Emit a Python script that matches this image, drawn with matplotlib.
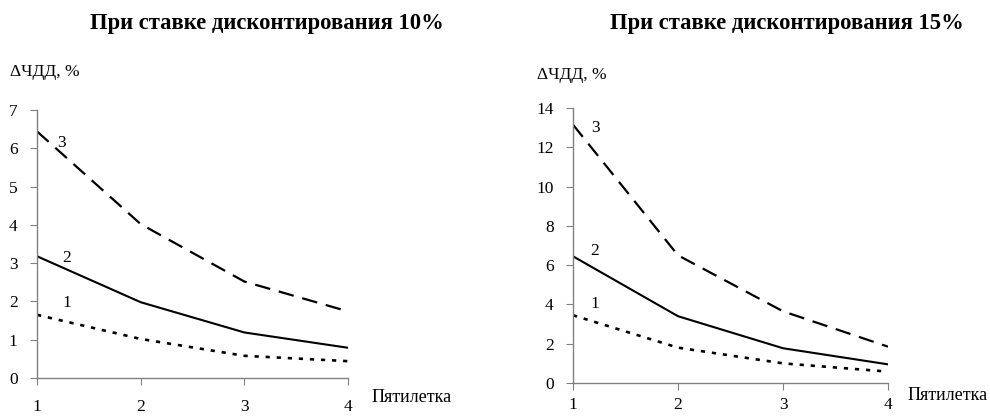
import matplotlib.pyplot as plt

plt.rcParams['font.family'] = ['Liberation Serif', 'DejaVu Serif']

periods = [1, 2, 3, 4]
# discount rate 10%
r10_s1 = [1.65, 1.02, 0.58, 0.44]
r10_s2 = [3.18, 1.98, 1.19, 0.79]
r10_s3 = [6.44, 4.02, 2.52, 1.74]
# discount rate 15%
r15_s1 = [3.45, 1.8, 1.0, 0.58]
r15_s2 = [6.45, 3.4, 1.77, 0.95]
r15_s3 = [13.15, 6.5, 3.65, 1.85]

titles = ["При ставке дисконтирования 10%", "При ставке дисконтирования 15%"]
ylabel = "ΔЧДД, %"
xlabel = "Пятилетка"

fig = plt.figure(figsize=(9.9, 4.16), dpi=100)
ax1 = fig.add_axes([0.0374, 0.0913, 0.3141, 0.6443])
ax2 = fig.add_axes([0.5788, 0.0793, 0.3182, 0.6611])

gray = '#808080'


def draw(ax, s1, s2, s3, ymax, ystep, lab_pos, xpad):
    ax.plot(periods, s3, color='black', lw=1.6, dashes=(7, 4))
    ax.plot(periods, s2, color='black', lw=1.5)
    ax.plot(periods, s1, color='black', lw=1.9, dashes=(1.6, 2.6))
    for txt, (x, y) in zip(["3", "2", "1"], lab_pos):
        ax.text(x, y, txt, fontsize=12.5, ha='center', va='center')
    ax.set_xlim(1, 4)
    ax.set_ylim(0, ymax)
    ax.set_xticks(periods)
    ax.set_yticks(range(0, ymax + 1, ystep))
    for s in ['top', 'right']:
        ax.spines[s].set_visible(False)
    for s in ['left', 'bottom']:
        ax.spines[s].set_color(gray)
        ax.spines[s].set_linewidth(1.0)
    ax.tick_params(axis='x', direction='out', length=5, color=gray, labelsize=12.5, pad=xpad)
    ax.tick_params(axis='y', direction='out', length=5, color=gray, labelsize=12.5, pad=9)


draw(ax1, r10_s1, r10_s2, r10_s3, 7, 1,
     [(1.24, 6.13), (1.29, 3.13), (1.29, 1.95)], 10)
draw(ax2, r15_s1, r15_s2, r15_s3, 14, 2,
     [(1.21, 13.0), (1.21, 6.7), (1.21, 4.0)], 5)

fig.text(267 / 990, 1 - 23 / 416, titles[0], fontsize=16.3, fontweight='bold', ha='center', va='center')
fig.text(787 / 990, 1 - 23 / 416, titles[1], fontsize=16.3, fontweight='bold', ha='center', va='center')
fig.text(10 / 990, 1 - 72 / 416, ylabel, fontsize=12.6, ha='left', va='center')
fig.text(537 / 990, 1 - 75 / 416, ylabel, fontsize=12.6, ha='left', va='center')
fig.text(372 / 990, 1 - 398 / 416, xlabel, fontsize=13, ha='left', va='center')
fig.text(908 / 990, 1 - 395 / 416, xlabel, fontsize=13, ha='left', va='center')

fig.savefig('out.png', dpi=100)
